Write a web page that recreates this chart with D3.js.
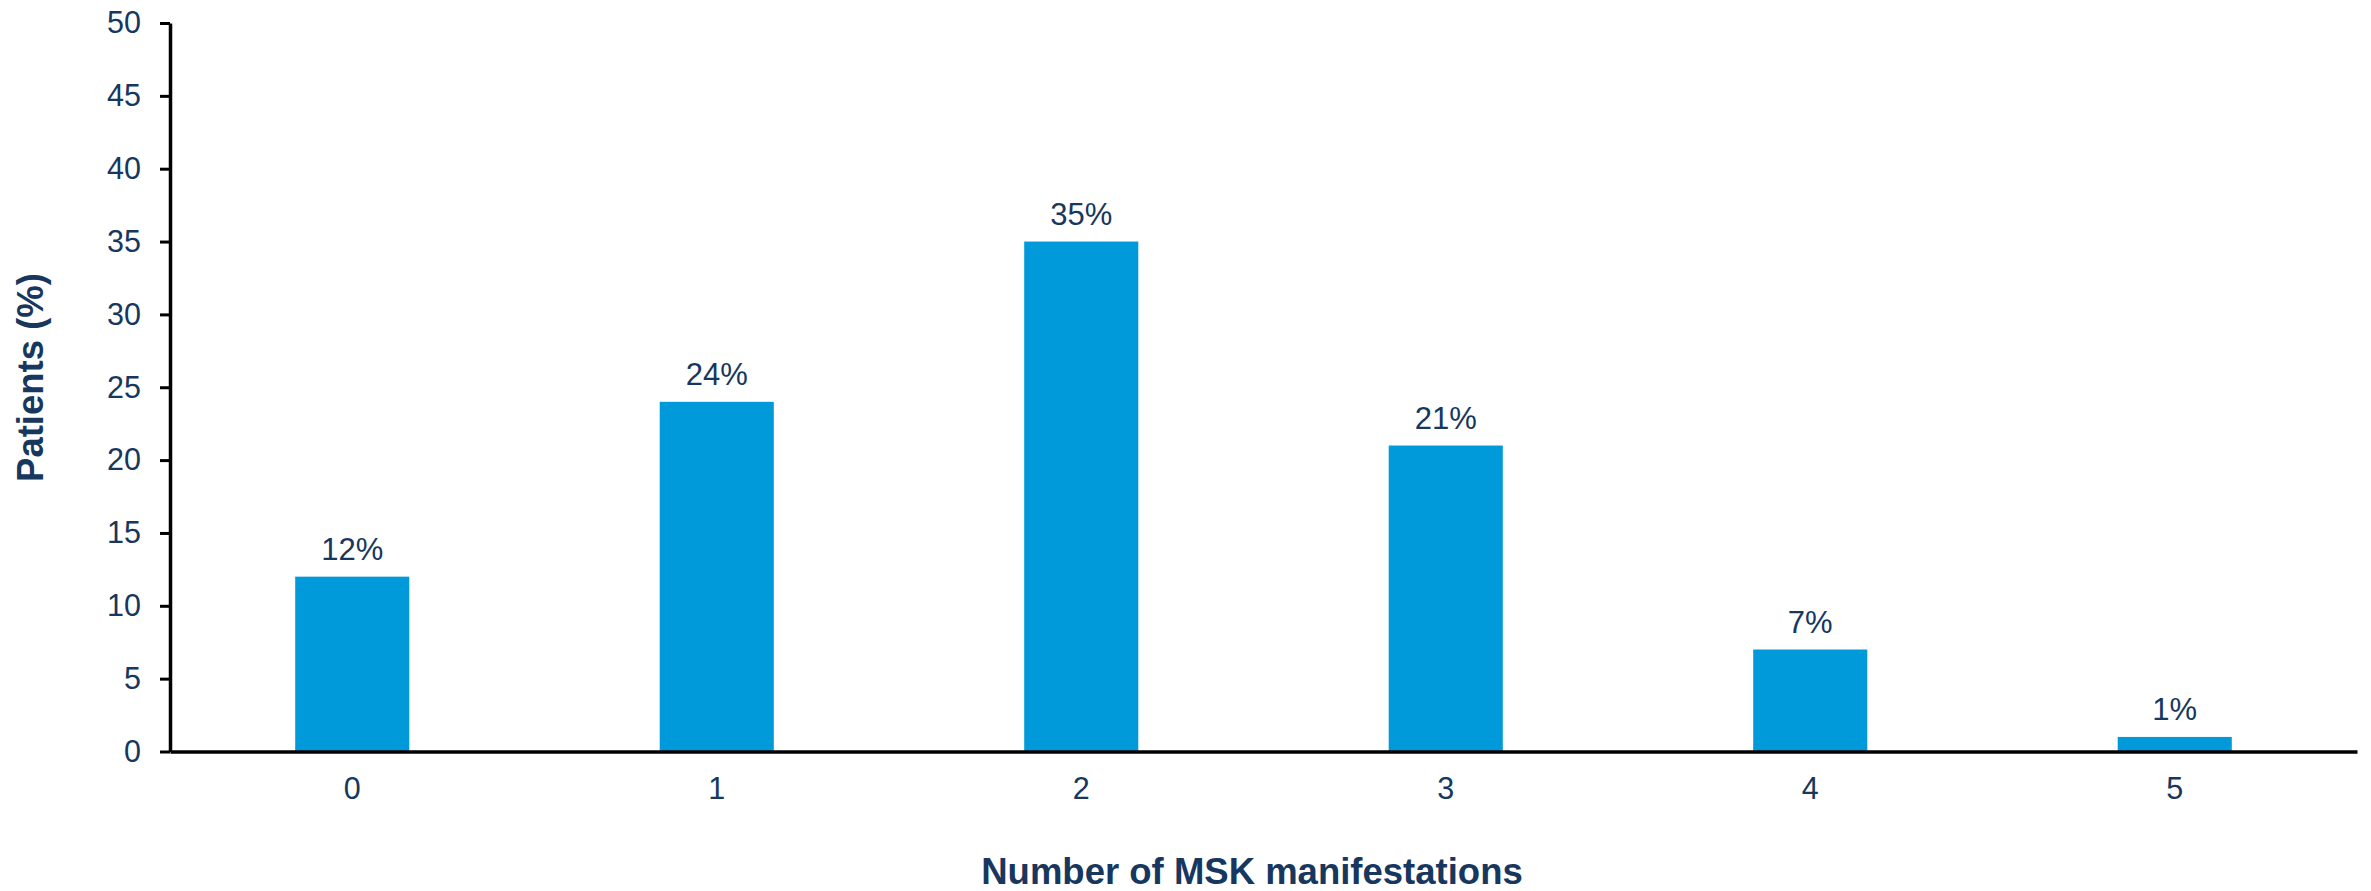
<!DOCTYPE html>
<html>
<head>
<meta charset="utf-8">
<script src="https://cdn.jsdelivr.net/npm/d3@7"></script>
<style>
  html, body { margin: 0; padding: 0; background: #ffffff; }
  svg { display: block; }
</style>
</head>
<body>
<script>
// Share of patients by number of musculoskeletal manifestations
const categories = ["0", "1", "2", "3", "4", "5"];
const patientsPct = [12, 24, 35, 21, 7, 1];
const yTicks = [0, 5, 10, 15, 20, 25, 30, 35, 40, 45, 50];

const W = 2371, H = 891;
const textColor = "#17375e";
const barColor = "#0099da";
const font = "Arial, 'Liberation Sans', Helvetica, sans-serif";

const svg = d3.select("body").append("svg")
  .attr("width", W).attr("height", H);

const x = d3.scaleBand()
  .domain(categories)
  .range([170, 2357])
  .paddingInner(0.687)
  .paddingOuter(0.3435);

const y = d3.scaleLinear()
  .domain([0, 50])
  .range([751.5, 23]);

// Bars
svg.append("g").selectAll("rect")
  .data(patientsPct)
  .join("rect")
  .attr("x", (d, i) => x(categories[i]))
  .attr("y", d => y(d))
  .attr("width", x.bandwidth())
  .attr("height", d => y(0) - y(d))
  .attr("fill", barColor);

// Value labels above bars
svg.append("g").selectAll("text")
  .data(patientsPct)
  .join("text")
  .attr("x", (d, i) => x(categories[i]) + x.bandwidth() / 2)
  .attr("y", d => y(d) - 17)
  .attr("text-anchor", "middle")
  .attr("font-family", font)
  .attr("font-size", 31)
  .attr("fill", textColor)
  .text(d => d + "%");

// Y axis
const yAxis = svg.append("g")
  .attr("transform", "translate(170,0)")
  .call(d3.axisLeft(y).tickValues(yTicks).tickSize(10).tickPadding(19).tickSizeOuter(0));
yAxis.select(".domain").attr("stroke", "#000").attr("stroke-width", 3.5);
yAxis.selectAll(".tick line").attr("stroke", "#000").attr("stroke-width", 3);
yAxis.selectAll(".tick text")
  .attr("font-family", font)
  .attr("font-size", 30.5)
  .attr("fill", textColor);

// X axis (baseline, no tick marks)
const xAxis = svg.append("g")
  .attr("transform", `translate(0,${y(0)})`)
  .call(d3.axisBottom(x).tickSize(0).tickPadding(26).tickSizeOuter(0));
xAxis.select(".domain").attr("stroke", "#000").attr("stroke-width", 3.5);
xAxis.selectAll(".tick text")
  .attr("font-family", font)
  .attr("font-size", 30.5)
  .attr("fill", textColor);

// Axis titles
svg.append("text")
  .attr("x", 1252)
  .attr("y", 884)
  .attr("text-anchor", "middle")
  .attr("font-family", font)
  .attr("font-weight", "bold")
  .attr("font-size", 36.5)
  .attr("fill", textColor)
  .text("Number of MSK manifestations");

svg.append("text")
  .attr("transform", "translate(43,377.5) rotate(-90)")
  .attr("text-anchor", "middle")
  .attr("font-family", font)
  .attr("font-weight", "bold")
  .attr("font-size", 36.5)
  .attr("fill", textColor)
  .text("Patients (%)");
</script>
</body>
</html>
